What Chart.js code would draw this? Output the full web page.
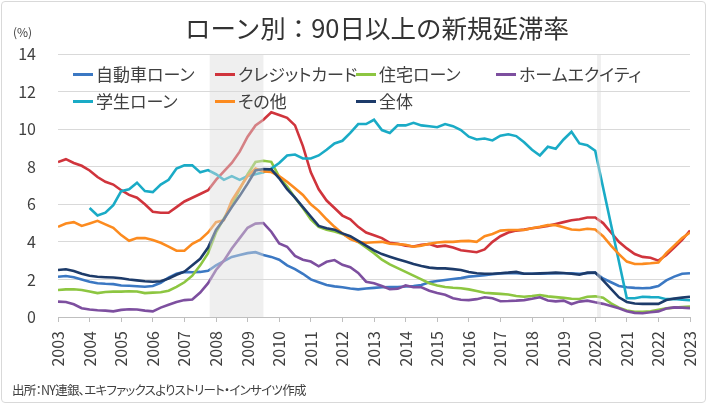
<!DOCTYPE html>
<html>
<head>
<meta charset="utf-8">
<script src="https://cdn.jsdelivr.net/npm/chart.js@4.4.0/dist/chart.umd.min.js"></script>
<style>
  html, body { margin: 0; padding: 0; background: #fff; }
  #wrap { position: relative; width: 707px; height: 404px; overflow: hidden;
          font-family: "Noto Sans CJK JP", sans-serif; color: #404040;
          font-feature-settings: "palt"; }
  #frame { position: absolute; left: 1px; top: 1px; width: 703px; height: 400px;
           border: 1px solid #d9d9d9; border-radius: 4px; pointer-events: none; }
  #title { position: absolute; left: 58px; width: 638px; top: 12px; text-align: center;
           font-size: 25.5px; line-height: 30px; color: #333; font-feature-settings: normal; }
  #unit { position: absolute; left: 13px; top: 23px; font-size: 12px; }
  #note { position: absolute; left: 12px; top: 380px; font-size: 12.5px; letter-spacing: -0.75px; }
  .lg { position: absolute; font-size: 17px; line-height: 20px; white-space: nowrap; }
  .lg i { position: absolute; left: 0; top: 9px; width: 20px; height: 3px; }
  .lg span { position: absolute; left: 23px; top: 0; }
  canvas { position: absolute; left: 0; top: 0; }
</style>
</head>
<body>
<div id="wrap">
  <canvas id="chart" width="707" height="404"></canvas>
  <div id="title">ローン別：90日以上の新規延滞率</div>
  <div id="unit">(%)</div>
  <div id="note">出所：NY連銀、エキファックスよりストリート・インサイツ作成</div>
  <div id="legend"></div>
  <div id="frame"></div>
</div>
<script>
// quarterly, 2003Q1 .. 2023Q1
var startYear = 2003;
var seriesNames = ['自動車ローン', 'クレジットカード', '住宅ローン', 'ホームエクイティ', '学生ローン', 'その他', '全体'];
var seriesColors = ['#3b78c3', '#d0343c', '#8dc641', '#7d4f9f', '#1aabc6', '#fc8b1f', '#1d3b6a'];
var yearTicks = [2003, 2004, 2005, 2006, 2007, 2008, 2009, 2010, 2011, 2012, 2013,
                 2014, 2015, 2016, 2017, 2018, 2019, 2020, 2021, 2022, 2023];
var recessions = [[2007.8, 2009.5], [2020.06, 2020.18]];

var autoLoan = [2.14, 2.18, 2.12, 2.0, 1.88, 1.8, 1.77, 1.75, 1.68, 1.66,
  1.64, 1.61, 1.65, 1.82, 2.1, 2.3, 2.4, 2.38, 2.4, 2.46,
  2.75, 2.98, 3.2, 3.3, 3.4, 3.45, 3.3, 3.2, 3.05, 2.75,
  2.55, 2.3, 2.0, 1.85, 1.7, 1.63, 1.58, 1.52, 1.47, 1.52,
  1.55, 1.58, 1.6, 1.6, 1.62, 1.65, 1.7, 1.85, 1.92, 1.97,
  2.02, 2.07, 2.15, 2.18, 2.22, 2.28, 2.32, 2.34, 2.33, 2.3,
  2.3, 2.3, 2.32, 2.33, 2.33, 2.33, 2.3, 2.33, 2.36, 2.05,
  1.85, 1.65, 1.58, 1.55, 1.53, 1.55, 1.65, 1.95, 2.15, 2.3, 2.33];
var creditCard = [8.25, 8.4, 8.2, 8.05, 7.8, 7.45, 7.2, 7.05, 6.75, 6.5,
  6.35, 6.0, 5.6, 5.55, 5.55, 5.85, 6.15, 6.35, 6.55, 6.75,
  7.3, 7.75, 8.2, 8.8, 9.6, 10.2, 10.5, 10.9, 10.75, 10.6,
  10.2, 9.1, 7.7, 6.8, 6.2, 5.8, 5.4, 5.2, 4.8, 4.5,
  4.35, 4.2, 3.95, 3.9, 3.8, 3.75, 3.85, 3.88, 3.75, 3.8,
  3.7, 3.55, 3.5, 3.45, 3.6, 4.0, 4.3, 4.5, 4.6, 4.65,
  4.72, 4.78, 4.85, 4.95, 5.05, 5.15, 5.2, 5.3, 5.3, 5.0,
  4.5, 4.0, 3.65, 3.35, 3.2, 3.15, 3.0, 3.3, 3.7, 4.1, 4.6];
var mortgage = [1.44, 1.47, 1.48, 1.44, 1.36, 1.27, 1.33, 1.35, 1.35, 1.37,
  1.36, 1.27, 1.3, 1.32, 1.4, 1.6, 1.85, 2.2, 2.75, 3.4,
  4.5, 5.25, 5.95, 6.8, 7.6, 8.25, 8.32, 8.26, 7.46, 6.95,
  6.35, 5.8, 5.2, 4.8, 4.65, 4.55, 4.42, 4.2, 4.0, 3.7,
  3.4, 3.05, 2.8, 2.6, 2.4, 2.2, 2.0, 1.8, 1.68, 1.6,
  1.56, 1.53, 1.47, 1.38, 1.29, 1.26, 1.23, 1.2, 1.12, 1.08,
  1.12, 1.17, 1.1, 1.06, 1.02, 0.97, 0.96, 1.08, 1.1, 1.03,
  0.73, 0.5, 0.35, 0.28, 0.28, 0.3, 0.38, 0.46, 0.5, 0.53, 0.55];
var homeEquity = [0.82, 0.8, 0.68, 0.47, 0.4, 0.36, 0.34, 0.3, 0.38, 0.41,
  0.4, 0.34, 0.3, 0.5, 0.65, 0.8, 0.9, 0.93, 1.3, 1.8,
  2.5, 3.0, 3.65, 4.2, 4.75, 4.97, 5.0, 4.54, 3.92, 3.74,
  3.25, 3.05, 2.95, 2.7, 2.94, 3.03, 2.78, 2.65, 2.35, 1.88,
  1.8, 1.65, 1.48, 1.5, 1.68, 1.58, 1.58, 1.4, 1.28, 1.18,
  1.0, 0.92, 0.9, 0.95, 1.05, 1.0, 0.84, 0.85, 0.87, 0.9,
  0.97, 1.05, 0.88, 0.83, 0.87, 0.69, 0.82, 0.87, 0.78, 0.7,
  0.58, 0.46, 0.3, 0.22, 0.2, 0.25, 0.3, 0.45, 0.51, 0.5, 0.47];
var studentLoan = [null, null, null, null, 5.8, 5.4, 5.55, 5.95, 6.7, 6.8,
  7.15, 6.7, 6.65, 7.05, 7.3, 7.9, 8.07, 8.08, 7.7, 7.82,
  7.6, 7.3, 7.5, 7.3, 7.5, 7.6, 7.7, 7.9, 8.2, 8.6,
  8.65, 8.44, 8.44, 8.6, 8.9, 9.24, 9.38, 9.8, 10.27, 10.27,
  10.5, 9.95, 9.8, 10.2, 10.2, 10.34, 10.2, 10.15, 10.1, 10.27,
  10.16, 9.95, 9.6, 9.45, 9.5, 9.4, 9.65, 9.73, 9.63, 9.3,
  8.9, 8.6, 9.06, 8.95, 9.45, 9.86, 9.24, 9.15, 8.85, null,
  null, null, 1.0, 1.0, 1.08, 1.06, 1.05, 0.95, 0.96, 0.92, 0.9];
var otherLoan = [4.8, 4.98, 5.05, 4.85, 4.98, 5.12, 4.93, 4.75, 4.36, 4.06,
  4.2, 4.2, 4.1, 3.95, 3.75, 3.53, 3.53, 3.9, 4.12, 4.5,
  5.05, 5.15, 6.2, 6.85, 7.5, 7.9, 7.75, 7.72, 7.5, 7.2,
  6.85, 6.5, 6.0, 5.65, 5.2, 4.8, 4.45, 4.15, 4.0, 3.95,
  3.98, 4.0, 3.9, 3.88, 3.85, 3.74, 3.8, 3.9, 3.97, 4.0,
  4.0, 4.04, 4.05, 4.0, 4.3, 4.42, 4.6, 4.63, 4.63, 4.63,
  4.72, 4.8, 4.89, 4.89, 4.78, 4.66, 4.63, 4.7, 4.66, 4.3,
  3.8, 3.35, 2.95, 2.82, 2.83, 2.86, 2.9, 3.4, 3.8, 4.2, 4.5];
var total = [2.5, 2.54, 2.45, 2.3, 2.2, 2.14, 2.12, 2.1, 2.06, 2.0,
  1.95, 1.9, 1.88, 1.9, 2.05, 2.25, 2.41, 2.75, 3.1, 3.7,
  4.63, 5.2, 5.85, 6.45, 7.1, 7.8, 7.88, 7.86, 7.38, 6.8,
  6.35, 5.85, 5.35, 4.85, 4.72, 4.65, 4.45, 4.3, 4.05, 3.8,
  3.55, 3.35, 3.21, 3.08, 2.95, 2.82, 2.72, 2.63, 2.59, 2.59,
  2.55, 2.5, 2.4, 2.33, 2.3, 2.3, 2.33, 2.36, 2.4, 2.3,
  2.3, 2.32, 2.34, 2.36, 2.34, 2.3, 2.25, 2.36, 2.36, 1.95,
  1.5, 1.05, 0.8, 0.72, 0.7, 0.7, 0.7, 0.9, 0.98, 1.03, 1.08];

var allSeries = [autoLoan, creditCard, mortgage, homeEquity, studentLoan, otherLoan, total];

// legend slots (column x, row y) in Excel's order
var legendSlots = [[73, 64], [215, 64], [356, 64], [496, 64], [73, 91], [215, 91], [356, 91]];
var legend = document.getElementById('legend');
seriesNames.forEach(function(name, k) {
  var d = document.createElement('div');
  d.className = 'lg';
  d.style.left = legendSlots[k][0] + 'px';
  d.style.top = legendSlots[k][1] + 'px';
  d.innerHTML = '<i style="background:' + seriesColors[k] + '"></i><span>' + name + '</span>';
  legend.appendChild(d);
});

function toPoints(arr) {
  return arr.map(function(v, i) { return { x: startYear + i / 4, y: v }; });
}

var shadePlugin = {
  id: 'shade',
  afterDatasetsDraw: function(chart) {
    var ctx = chart.ctx, xs = chart.scales.x, area = chart.chartArea;
    ctx.save();
    ctx.fillStyle = 'rgba(220,220,220,0.46)';
    recessions.forEach(function(r) {
      var x0 = xs.getPixelForValue(r[0]);
      var x1 = xs.getPixelForValue(r[1]);
      ctx.fillRect(x0, area.top, x1 - x0, area.bottom - area.top);
    });
    ctx.restore();
  }
};

var tickFont = { family: '"Noto Sans CJK JP", sans-serif', size: 16 };

new Chart(document.getElementById('chart'), {
  type: 'line',
  data: {
    datasets: allSeries.map(function(arr, k) {
      return {
        label: seriesNames[k],
        data: toPoints(arr),
        borderColor: seriesColors[k],
        backgroundColor: seriesColors[k],
        borderWidth: 2.6,
        pointRadius: 0,
        tension: 0,
        fill: false,
        spanGaps: true,
        order: 6 - k
      };
    })
  },
  options: {
    responsive: false,
    devicePixelRatio: 1,
    animation: false,
    layout: { padding: { top: 54, right: 17, left: 0, bottom: 0 } },
    plugins: { legend: { display: false }, tooltip: { enabled: false } },
    scales: {
      x: {
        type: 'linear',
        min: 2003,
        max: 2023,
        afterFit: function(s) {
          s.height = 87;
          s.paddingLeft = 0;
          s.paddingRight = 0;
        },
        afterBuildTicks: function(s) { s.ticks = yearTicks.map(function(v) { return { value: v }; }); },
        ticks: {
          autoSkip: false, minRotation: 90, maxRotation: 90, padding: 9,
          color: '#404040', font: tickFont,
          callback: function(v) { return String(v); }
        },
        grid: { drawOnChartArea: false, drawTicks: true, tickLength: 5, color: '#bfbfbf' },
        border: { color: '#bfbfbf' }
      },
      y: {
        min: 0,
        max: 14,
        afterFit: function(s) {
          s.width = 58;
          s.paddingTop = 0;
          s.paddingBottom = 0;
        },
        ticks: { stepSize: 2, padding: 22, color: '#404040', font: tickFont },
        grid: { color: '#d9d9d9', drawTicks: false },
        border: { display: false }
      }
    }
  },
  plugins: [shadePlugin]
});
</script>
</body>
</html>
